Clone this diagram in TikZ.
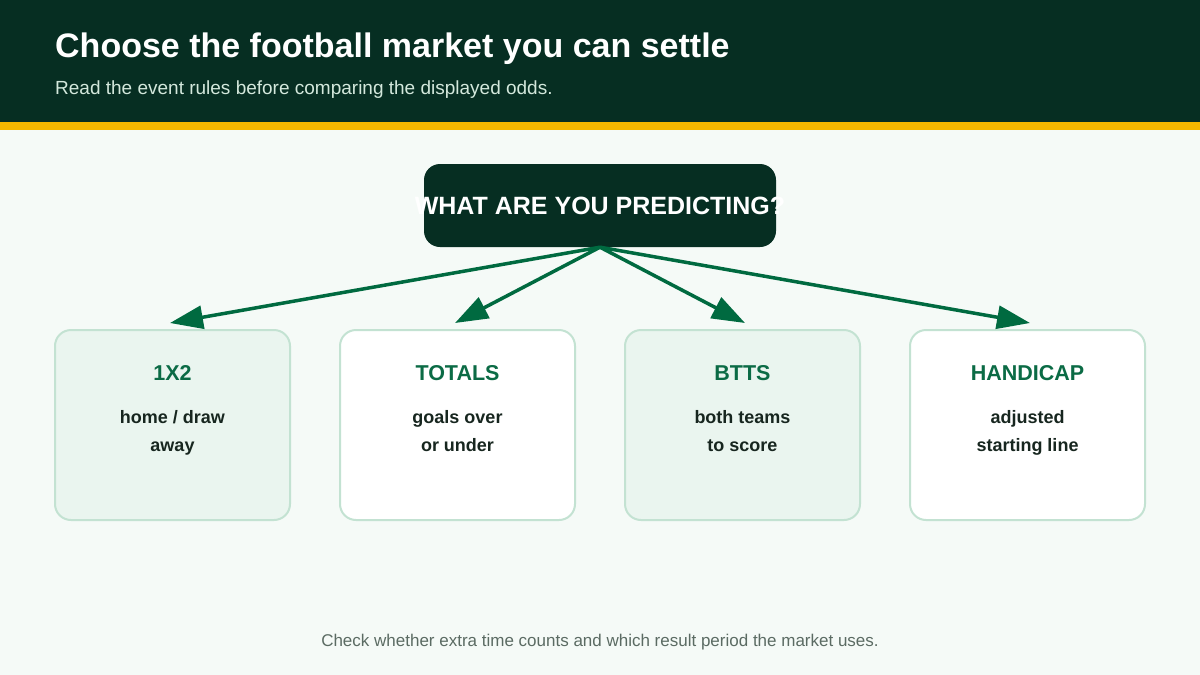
\documentclass[tikz,border=0pt]{standalone}
\usepackage{fontspec}
\setmainfont{Liberation Sans}
\usetikzlibrary{arrows.meta,positioning}

\definecolor{pitchdark}{HTML}{062E22}
\definecolor{flaggold}{HTML}{F5B800}
\definecolor{pagebg}{HTML}{F5FAF7}
\definecolor{linkgreen}{HTML}{006A40}
\definecolor{cardline}{HTML}{C3E2D2}
\definecolor{cardtint}{HTML}{EAF5EF}
\definecolor{headgreen}{HTML}{0B6B45}
\definecolor{bodyink}{HTML}{17261F}
\definecolor{noteink}{HTML}{5B6B63}
\definecolor{subink}{HTML}{D3E8DC}

\begin{document}
\begin{tikzpicture}[x=1pt, y=-1pt,
            ask box/.style={rectangle, rounded corners=16pt, fill=pitchdark, minimum width=352pt, minimum height=83pt, inner sep=0pt, text=white, font=\fontsize{25}{30}\selectfont\bfseries},
            market card/.style={rectangle, rounded corners=16pt, draw=cardline, line width=2pt, minimum width=235pt, minimum height=190pt},
            tinted card/.style={market card, fill=cardtint},
            plain card/.style={market card, fill=white},
            card head/.style={anchor=base, inner sep=0pt, text=headgreen, font=\fontsize{21.5}{26}\selectfont\bfseries},
            card body/.style={anchor=north, inner sep=0pt, align=center, text=bodyink, font=\fontsize{18}{28}\selectfont\bfseries},
            link/.style={-{Triangle[length=33pt, width=23pt]}, draw=linkgreen, line width=3.5pt}
    ]
        % Page and header band
        \fill[pagebg] (0,0) rectangle (1200,675);
        \fill[pitchdark] (0,0) rectangle (1200,122);
        \fill[flaggold] (0,122) rectangle (1200,130);
        \node[anchor=base west, inner sep=0pt, text=white, font=\fontsize{34}{40}\selectfont\bfseries] (title) at (55,57) {Choose the football market you can settle};
        \node[anchor=base west, inner sep=0pt, text=subink, font=\fontsize{19}{23}\selectfont] (subtitle) at (55,94) {Read the event rules before comparing the displayed odds.};

        % Question (text runs past the box edges)
        \node[ask box] (ask) at (600,205.5) {\makebox[0pt]{WHAT ARE YOU PREDICTING?}};

        % Markets
        \node[tinted card] (c_1x2) at (172.5,425) {};
        \node[plain card] (c_tot) at (457.5,425) {};
        \node[tinted card] (c_btts) at (742.5,425) {};
        \node[plain card] (c_hcp) at (1027.5,425) {};

        \node[card head] (h_1x2) at (172.5,380) {1X2};
        \node[card head] (h_tot) at (457.5,380) {TOTALS};
        \node[card head] (h_btts) at (742.5,380) {BTTS};
        \node[card head] (h_hcp) at (1027.5,380) {HANDICAP};

        \node[card body] (b_1x2) at (172.5,410) {home / draw\\away};
        \node[card body] (b_tot) at (457.5,410) {goals over\\or under};
        \node[card body] (b_btts) at (742.5,410) {both teams\\to score};
        \node[card body] (b_hcp) at (1027.5,410) {adjusted\\starting line};

        % Arrow tips, just above the cards
        \coordinate (tip_1x2) at (170,323);
        \coordinate (tip_tot) at (455,323);
        \coordinate (tip_btts) at (745,323);
        \coordinate (tip_hcp) at (1030,323);

        % Arrows
        \draw[link] (ask.south) -- (tip_1x2);
        \draw[link] (ask.south) -- (tip_tot);
        \draw[link] (ask.south) -- (tip_btts);
        \draw[link] (ask.south) -- (tip_hcp);

        % Footer
        \node[anchor=base, inner sep=0pt, text=noteink, font=\fontsize{17}{21}\selectfont] (note) at (600,646) {Check whether extra time counts and which result period the market uses.};
    \end{tikzpicture}
\end{document}
